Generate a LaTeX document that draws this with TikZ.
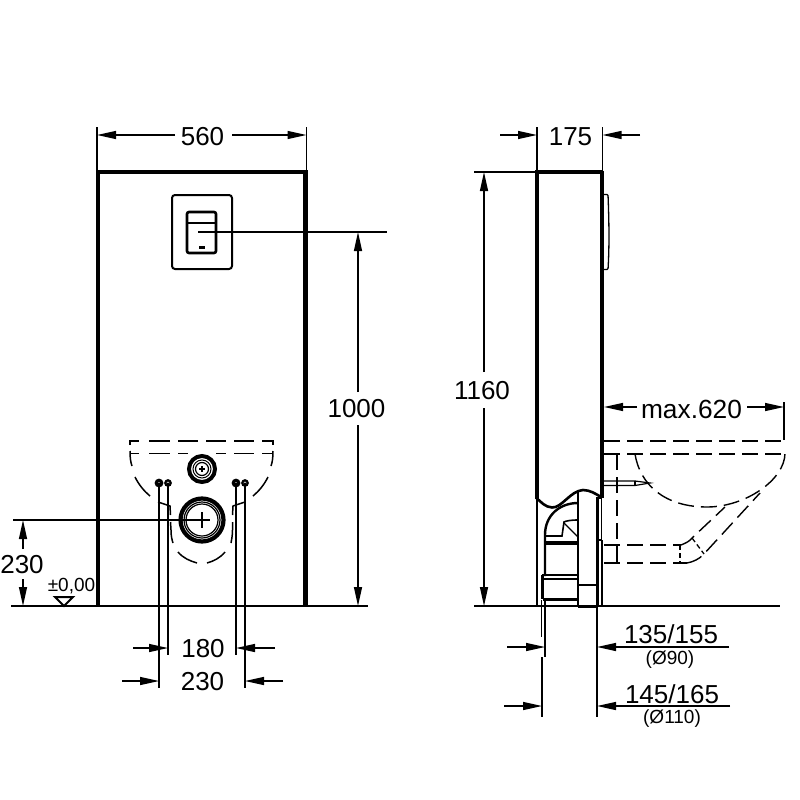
\documentclass[tikz,border=0pt]{standalone}
\usepackage{fontspec}
\setmainfont{Liberation Sans}
\usetikzlibrary{arrows.meta}
\tikzset{
  thin line/.style={line width=1.3pt,black},
  body line/.style={line width=3.4pt,black},
  hidden line/.style={line width=1.4pt,black,dash pattern=on 16pt off 7pt},
  dim/.style={line width=1.3pt,black,-{Triangle[length=19pt,width=8pt]}},
  big text/.style={font=\fontsize{26}{26}\selectfont,inner sep=0pt,text=black},
  small text/.style={font=\fontsize{19}{19}\selectfont,inner sep=0pt,text=black},
}
\begin{document}
\begin{tikzpicture}[x=1pt,y=-1pt]
\useasboundingbox (0,0) rectangle (800,800);
\fill[white] (0,0) rectangle (800,800);

% ---------- labels
\node[big text] (t560) at (202.5,136.5) {560};
\node[big text] (t175) at (570.5,136.5) {175};
\node[big text] (t1000) at (356.5,408.5) {1000};
\node[big text] (t1160) at (482,390.5) {1160};
\node[big text] (t230l) at (22,565) {230};
\node[big text] (t180) at (203,648.5) {180};
\node[big text] (t230b) at (202.5,682) {230};
\node[font=\fontsize{26.3}{26.3}\selectfont,inner sep=0pt] (tmax) at (691.5,409) {max.620};
\node[big text] (t135) at (671,634) {135/155};
\node[big text] (t145) at (672,694) {145/165};
\node[small text] (t90) at (670,660) {(Ø90)};
\node[small text] (t110) at (672,719) {(Ø110)};
\node[font=\fontsize{19}{19}\selectfont,inner sep=0pt] (t0) at (71.5,586.5) {±0,00};

% ---------- front view
\draw[body line] (98,606) -- (98,172) -- (306,172) -- (306,606);
\draw[thin line] (303.5,172) -- (303.5,606);
\draw[line width=1.8pt] (11,606) -- (368,606);
\draw[line width=2pt,rounded corners=3pt] (172,195) rectangle (232,269);
\draw[line width=2.6pt,rounded corners=2pt] (187,212) rectangle (216,253);
\draw[line width=1.2pt] (187,223) -- (216,223);
\fill (199,246) rectangle (205,249);
% flush pipes
\coordinate (cTop) at (202,469);
\coordinate (cBig) at (202,520);
\draw[line width=4pt] (cTop) circle (13);
\draw[line width=1pt] (cTop) circle (9);
\draw[line width=1.2pt] (cTop) circle (6.5);
\draw[line width=1.1pt] (199,469) -- (205,469) (202,466) -- (202,472);
\draw[line width=4.2pt] (cBig) circle (21.5);
\draw[line width=1.2pt] (cBig) circle (18);
\draw[line width=1.2pt] (cBig) circle (16);
\draw[thin line] (202,512) -- (202,528);
% connections
\foreach \n/\x/\w in {a/159/3.2,b/168/2.2,c/236/3.2,d/245/2.2}{
  \coordinate (\n) at (\x,483);
  \draw[line width=\w pt,fill=gray!60] (\n) circle (2.7);
}
\coordinate (aEnd) at (159,688);
\coordinate (bEnd) at (168,655);
\coordinate (cEnd) at (236,655);
\coordinate (dEnd) at (245,688);
\draw[line width=1.4pt] (a) -- (aEnd) (b) -- (bEnd) (c) -- (cEnd) (d) -- (dEnd);
% hidden pan
\begin{scope}[line width=1.5pt]
\draw (130,445) -- (130,441) -- (139,441) (149,441) -- (170,441) (178,441) -- (198,441)
      (206,441) -- (226,441) (234,441) -- (254,441) (262,441) -- (273,441) -- (273,445);
\draw (130,453.5) -- (139,453.5) (149,453.5) -- (170,453.5) (178,453.5) -- (188,453.5)
      (216,453.5) -- (226,453.5) (234,453.5) -- (254,453.5) (262,453.5) -- (273,453.5);
\draw (130,451) .. controls (130,457) and (130.5,462) .. (132,466);
\draw (273,451) .. controls (273,457) and (272.5,462) .. (271,466);
\draw (135,477) .. controls (139,485) and (144,491) .. (150,496);
\draw (268,477) .. controls (264,485) and (259,491) .. (253,496);
\draw (158,502) -- (170,506) -- (170.5,515);
\draw (245,502) -- (233,506) -- (232.5,515);
\draw (170.5,522) -- (171,530) .. controls (171,536) and (172,540) .. (173,543);
\draw (232.5,522) -- (232.5,530) .. controls (232.5,536) and (231.5,540) .. (231,543);
\draw (178,552) .. controls (183,558) and (190,561) .. (197,563);
\draw (225,552) .. controls (220,558) and (214,561) .. (207,563);
\end{scope}
\draw[thin line] (13,520) -- (210,520);
\coordinate (e1000) at (198,232);
\draw[thin line] (e1000) -- (387,232);
% front dims
\draw[thin line] (97,127) -- (97,172) (306.5,127) -- (306.5,172);
\coordinate (l560) at (97,135);
\coordinate (r560) at (306.5,135);
\coordinate (s560a) at (175,135);
\coordinate (s560b) at (232,135);
\draw[dim] (s560a) -- (l560);
\draw[dim] (s560b) -- (r560);
\coordinate (k1) at (358,232);\coordinate (k2) at (358,606);
\coordinate (k1a) at (358,392);\coordinate (k2a) at (358,425);
\draw[dim] (k1a) -- (k1);
\draw[dim] (k2a) -- (k2);
\coordinate (k3) at (23,520);\coordinate (k4) at (23,606);
\draw[dim] (23,549) -- (k3);
\draw[dim] (23,579) -- (k4);
\draw[dim] (133,648) -- (168,648);
\draw[dim] (275,648) -- (236,648);
\draw[dim] (122,681) -- (159,681);
\draw[dim] (283,681) -- (245,681);
% level mark
\draw[line width=2pt,fill=white] (55,597) -- (73,597) -- (64,606) -- cycle;

% ---------- side view
\draw[body line] (537,499) -- (537,172) -- (602,172);
\draw[line width=4pt] (602,170.5) -- (602,498);
\draw[thin line] (474,172) -- (537,172);
\draw[line width=1.8pt] (474,606) -- (780,606);
\draw[thin line] (537,127) -- (537,172) (602.5,127) -- (602.5,172);
\draw[thin line,rounded corners=1pt] (604,194.5) -- (608,194.5) .. controls (609,220) and (609.5,245) .. (608,269.5) -- (604,269.5);
\draw[dim] (500,135) -- (537,135);
\draw[dim] (640,135) -- (602.5,135);
\coordinate (k5) at (484,172);\coordinate (k6) at (484,606);
\coordinate (k5a) at (484,372);\coordinate (k6a) at (484,408);
\draw[dim] (k5a) -- (k5);
\draw[dim] (k6a) -- (k6);
% lower body
\draw[thin line] (537,499) -- (537,606);
\draw[line width=2.6pt] (536.5,498) .. controls (541,502) and (545,507) .. (552,507.5)
   .. controls (562,508) and (570,491) .. (583,490) .. controls (590,490) and (596,494) .. (601,497);
\draw[line width=2.6pt] (578,491) -- (578,606);
\draw[line width=2.6pt] (597.5,497) -- (597.5,606);
\draw[line width=2.4pt] (578,585) -- (597.5,585);
\draw[line width=3pt] (578,606) -- (597.5,606);
\draw[thin line] (602,540) -- (602,606);
\draw[line width=1.6pt] (601.5,498) -- (601.5,540) -- (598,540);
\draw[thin line] (598,498) -- (602,498);
% elbow
\draw[line width=2.4pt] (578,503) .. controls (560,503) and (545,515) .. (545,535) -- (545,576);
\draw[line width=1.6pt] (578,520) .. controls (570,520) and (566,521) .. (564,522) -- (562,536) -- (546,536);
\draw[line width=1.3pt] (564,523) -- (578,537);
\draw[line width=4pt] (545,543) -- (578,543);
\draw[line width=2pt] (542,575) -- (578,575);
\draw[line width=2pt] (542,579) -- (578,579);
\draw[line width=2.4pt] (542.5,575) -- (542.5,599);
\draw[line width=3pt] (542.5,599) -- (578,599);
% hidden pan, side
\draw[hidden line] (604,441) -- (785,441);
\draw[hidden line] (604,454) -- (785,454);
\draw[hidden line] (617,454) -- (617,563);
\draw[hidden line] (604,545) -- (681,545);
\draw[hidden line] (604,563) -- (687,563);
\draw[line width=1.3pt,dash pattern=on 5pt off 3pt] (680,545) -- (680,563);
\draw[hidden line] (635,454) .. controls (640,485) and (665,507) .. (707,507) .. controls (745,507) and (785,480) .. (785,453);
\draw[hidden line] (681,545) .. controls (686,543) and (690,541) .. (692,538) -- (725,507);
\draw[hidden line] (687,563) .. controls (693,562) and (699,559) .. (703,555) -- (760,493);
\draw[line width=1.3pt,dash pattern=on 5pt off 3pt] (692,538) -- (704,554);
% bolt
\draw[line width=1.2pt] (604,481) -- (635,481) -- (650,483) -- (635,485.5) -- (604,485.5);
\draw[line width=1.2pt] (635,481) -- (635,485.5);
% side dims
\coordinate (k7) at (604,407);\coordinate (k8) at (784,407);
\draw[dim] (637,407) -- (k7);
\draw[dim] (747,407) -- (k8);
\draw[thin line] (784,402) -- (784,440);
\coordinate (g1) at (541.5,637);\coordinate (g2) at (545,657);
\coordinate (g3) at (542,717);\coordinate (g4) at (597,717);
\draw[line width=1.6pt] (541.5,600) -- (g1);
\draw[line width=1.6pt] (545,600) -- (g2);
\draw[line width=1.6pt] (542,657) -- (g3);
\draw[line width=1.6pt] (597,606) -- (g4);
\draw[dim] (507,647) -- (545,647);
\draw[dim] (504,706) -- (542,706);
\draw[dim] (729,647) -- (597,647);
\draw[dim] (730,706) -- (597,706);
\end{tikzpicture}
\end{document}
